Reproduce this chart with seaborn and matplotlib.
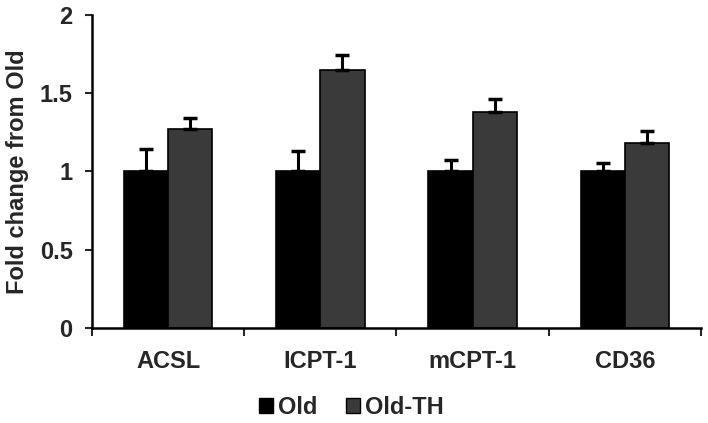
import pandas as pd
import seaborn as sns
import matplotlib.pyplot as plt
from matplotlib.patches import Patch

# data
genes = ["ACSL", "ICPT-1", "mCPT-1", "CD36"]
old_mean = [1.0, 1.0, 1.0, 1.0]
old_err = [0.14, 0.13, 0.07, 0.05]
th_mean = [1.27, 1.65, 1.38, 1.18]
th_err = [0.07, 0.09, 0.08, 0.08]
groups = ["Old", "Old-TH"]
colors = ["#000000", "#3a3a3a"]

df = pd.DataFrame({
    "gene": genes * 2,
    "group": [groups[0]] * 4 + [groups[1]] * 4,
    "fold": old_mean + th_mean,
})

sns.set_style("white")
plt.rcParams['font.family'] = ['Liberation Sans', 'DejaVu Sans']
plt.rcParams['font.weight'] = 'bold'
FS = 17

fig = plt.figure(figsize=(7.08, 4.23), dpi=100)
ax = fig.add_axes([0.13, 0.225, 0.86, 0.74])

sns.barplot(data=df, x="gene", y="fold", hue="group", palette=colors,
            width=0.58, errorbar=None, edgecolor="black", linewidth=1.2,
            legend=False, ax=ax)

# upward-only error bars on each bar
errs = old_err + th_err
for bar, e in zip(ax.patches, errs):
    xc = bar.get_x() + bar.get_width() / 2
    h = bar.get_height()
    ax.errorbar(xc, h, yerr=[[0], [e]], fmt="none", ecolor="black",
                elinewidth=2.2, capsize=5, capthick=2.5)

ax.set_ylim(0, 2)
ax.set_xlim(-0.5, 3.5)
ax.set_yticks([0, 0.5, 1, 1.5, 2])
ax.set_yticklabels(["0", "0.5", "1", "1.5", "2"])
ax.set_xlabel("")
ax.set_ylabel("Fold change from Old", fontsize=FS, fontweight="bold", labelpad=8)
ax.tick_params(axis="y", labelsize=FS, length=5, width=1.5, direction="out", left=True, pad=9)
ax.tick_params(axis="x", which="major", labelsize=FS, length=0, pad=16)
ax.set_xticks([-0.5, 0.5, 1.5, 2.5, 3.5], minor=True)
ax.tick_params(axis="x", which="minor", length=6, width=1.5, direction="out", bottom=True)
for lab in ax.get_xticklabels() + ax.get_yticklabels():
    lab.set_fontweight("bold")

sns.despine(ax=ax)
for s in ["left", "bottom"]:
    ax.spines[s].set_linewidth(1.8)
    ax.spines[s].set_color("black")

handles = [Patch(facecolor=c, edgecolor="black", label=g) for c, g in zip(colors, groups)]
fig.legend(handles=handles, loc="center", bbox_to_anchor=(0.496, 0.036), ncol=2,
           frameon=False, prop={"size": FS, "weight": "bold"},
           handlelength=0.6, handleheight=0.6, handletextpad=0.2, columnspacing=1.2)

fig.savefig("out.png", dpi=100)
